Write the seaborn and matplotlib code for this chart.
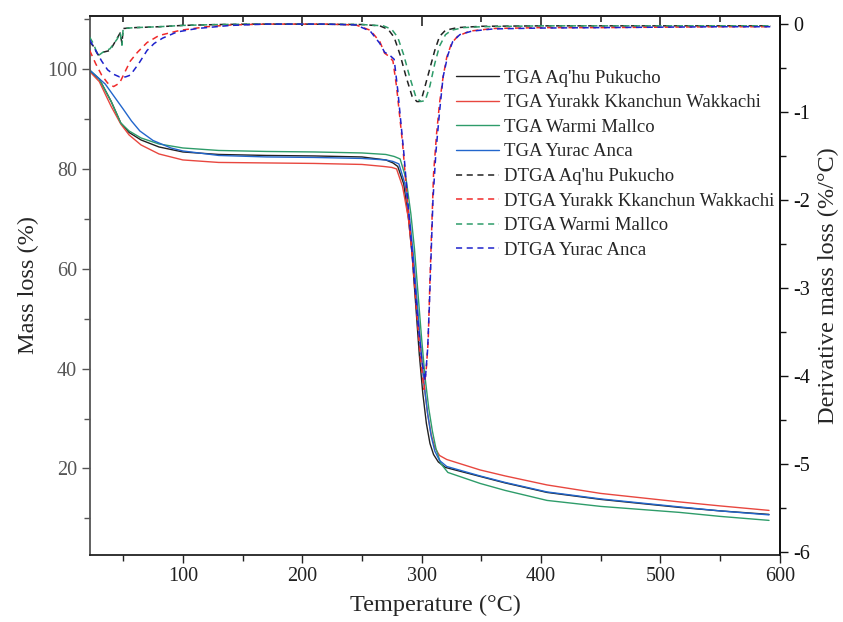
import matplotlib
matplotlib.use('Agg')
import matplotlib.pyplot as plt
import seaborn as sns
from matplotlib.ticker import MultipleLocator

# TGA curves (temperature in C, mass in %)
tga_black_t = [22, 30, 40, 48, 55, 65, 80, 100, 130, 170, 210, 250, 270, 276, 280, 285, 289, 292, 295, 298, 301, 304, 307, 310, 314, 320, 349, 370, 405, 450, 516, 550, 591]
tga_black_m = [99.6, 98.0, 93.5, 89.2, 87.3, 85.8, 84.4, 83.4, 82.9, 82.7, 82.6, 82.4, 81.8, 81.2, 80.5, 77, 70, 63, 53, 43, 35, 29, 25, 22.8, 21.3, 20.2, 18.4, 17.1, 15.2, 13.8, 12.2, 11.5, 10.8]

tga_red_t = [22, 30, 40, 48, 55, 65, 80, 100, 130, 170, 210, 250, 268, 275, 279, 284, 289, 292, 296, 299, 302, 305, 308, 311, 315, 321, 349, 370, 405, 450, 516, 550, 591]
tga_red_m = [99.5, 97.5, 92.5, 89.0, 86.8, 84.8, 83.0, 81.8, 81.3, 81.2, 81.1, 80.9, 80.5, 80.3, 80.0, 76.5, 70, 63, 53, 45, 37, 31, 26.8, 24.2, 22.6, 21.8, 19.7, 18.5, 16.7, 15.0, 13.3, 12.5, 11.6]

tga_green_t = [22, 30, 40, 48, 55, 65, 80, 100, 130, 170, 210, 250, 270, 277, 282, 287, 291, 294, 297, 300, 303, 306, 309, 312, 316, 322, 349, 370, 405, 450, 516, 550, 591]
tga_green_m = [99.8, 98.0, 93.5, 89.2, 87.6, 86.2, 85.0, 84.2, 83.7, 83.5, 83.4, 83.2, 82.9, 82.5, 82.0, 78, 71, 64, 55, 46, 38, 32, 27.5, 24, 21, 19.2, 17.0, 15.6, 13.6, 12.4, 11.2, 10.4, 9.6]

tga_blue_t = [22, 35, 50, 57, 64, 75, 90, 100, 130, 170, 210, 250, 270, 276, 281, 286, 290, 293, 296, 299, 302, 305, 308, 311, 315, 321, 349, 370, 405, 450, 516, 550, 591]
tga_blue_m = [99.8, 97.0, 92.0, 89.6, 87.6, 85.7, 84.2, 83.6, 82.7, 82.4, 82.3, 82.1, 81.8, 81.5, 81.0, 77, 70, 63, 54, 45, 37, 31, 26.5, 23.5, 21.6, 20.4, 18.5, 17.2, 15.3, 13.9, 12.3, 11.5, 10.7]

# DTGA curves (temperature in C, derivative in %/C)
dtga_black_t = [22, 25, 29, 33, 39, 45, 47.5, 49, 50, 60, 80, 100, 130, 160, 200, 250, 265, 272, 277, 282, 287, 292, 296, 298, 300, 303, 307, 311, 315, 320, 330, 350, 400, 450, 500, 550, 592]
dtga_black_d = [-0.2, -0.25, -0.35, -0.32, -0.3, -0.16, -0.1, -0.22, -0.05, -0.04, -0.03, -0.015, -0.005, 0, 0, -0.005, -0.02, -0.06, -0.15, -0.35, -0.6, -0.82, -0.88, -0.88, -0.85, -0.7, -0.5, -0.3, -0.14, -0.07, -0.04, -0.025, -0.02, -0.02, -0.02, -0.02, -0.02]

dtga_red_t = [22, 27, 32, 37, 42, 47, 52, 56, 62, 70, 80, 98, 120, 140, 170, 220, 245, 257, 265, 269, 273, 276, 279, 284, 288, 292, 296, 299, 302, 304, 305.5, 307, 308.5, 310, 312.5, 315, 318, 321, 325, 330, 340, 360, 400, 450, 500, 550, 592]
dtga_red_d = [-0.3, -0.45, -0.58, -0.67, -0.71, -0.67, -0.53, -0.42, -0.32, -0.21, -0.13, -0.07, -0.03, -0.01, 0, 0, -0.01, -0.07, -0.2, -0.33, -0.37, -0.42, -0.71, -1.35, -2.0, -2.6, -3.3, -3.8, -4.15, -3.9, -3.6, -2.9, -2.3, -1.7, -1.25, -0.9, -0.6, -0.38, -0.22, -0.14, -0.08, -0.05, -0.04, -0.04, -0.035, -0.03, -0.03]

dtga_green_t = [22, 25, 29, 33, 39, 45, 47.5, 49, 50, 60, 80, 100, 130, 160, 200, 250, 268, 275, 280, 285, 290, 295, 299, 303, 307, 311, 315, 320, 325, 335, 350, 400, 450, 500, 550, 592]
dtga_green_d = [-0.15, -0.22, -0.36, -0.32, -0.28, -0.17, -0.1, -0.24, -0.05, -0.04, -0.03, -0.015, -0.005, 0, 0, -0.005, -0.02, -0.06, -0.15, -0.35, -0.6, -0.82, -0.88, -0.87, -0.7, -0.45, -0.25, -0.12, -0.07, -0.04, -0.03, -0.02, -0.02, -0.02, -0.02, -0.02]

dtga_blue_t = [22, 27, 32, 37, 42, 47, 52, 56, 63, 70, 76, 83, 95, 112, 140, 170, 220, 245, 257, 265, 269, 273, 277, 280, 285, 289, 293, 297, 300, 303, 305, 306.5, 308, 309.5, 312, 315, 318, 322, 326, 332, 342, 360, 400, 450, 500, 550, 592]
dtga_blue_d = [-0.18, -0.3, -0.42, -0.52, -0.57, -0.6, -0.6, -0.58, -0.45, -0.3, -0.22, -0.16, -0.09, -0.05, -0.015, 0, 0, -0.01, -0.08, -0.22, -0.32, -0.35, -0.4, -0.75, -1.45, -2.1, -2.75, -3.4, -3.8, -4.05, -3.7, -3.2, -2.6, -2.0, -1.45, -1.0, -0.6, -0.35, -0.2, -0.12, -0.08, -0.055, -0.045, -0.04, -0.035, -0.03, -0.03]

sample_names = ["Aq'hu Pukucho", "Yurakk Kkanchun Wakkachi", "Warmi Mallco", "Yurac Anca"]
tga_colors = ['#222222', '#e8473f', '#2e9c6a', '#2266cc']
dtga_colors = ['#222222', '#f02a2a', '#2e9c6a', '#1e22cc']

sns.set_style('ticks')
plt.rcParams['font.family'] = ['Liberation Serif', 'DejaVu Serif']
plt.rcParams['axes.unicode_minus'] = False

fig = plt.figure(figsize=(8.43, 6.22), dpi=100)
ax = fig.add_axes([0.107, 0.108, 0.818, 0.866])
ax2 = ax.twinx()

tga_t = [tga_black_t, tga_red_t, tga_green_t, tga_blue_t]
tga_m = [tga_black_m, tga_red_m, tga_green_m, tga_blue_m]
dtga_t = [dtga_black_t, dtga_red_t, dtga_green_t, dtga_blue_t]
dtga_d = [dtga_black_d, dtga_red_d, dtga_green_d, dtga_blue_d]

for t, m, c, name in zip(tga_t, tga_m, tga_colors, sample_names):
    sns.lineplot(x=t, y=m, ax=ax, color=c, lw=1.0, sort=False, estimator=None, label='TGA ' + name, legend=False)

for t, d, c, name in zip(dtga_t, dtga_d, dtga_colors, sample_names):
    sns.lineplot(x=t, y=d, ax=ax2, color=c, lw=1.1, sort=False, estimator=None, label='DTGA ' + name, legend=False)
for line in ax2.get_lines():
    line.set_linestyle((0, (4, 3)))

ax.set_xlim(22.4, 600)
ax.set_ylim(2.7, 110.6)
ax2.set_ylim(-6.03, 0.09)

ax.xaxis.set_major_locator(MultipleLocator(100))
ax.xaxis.set_minor_locator(MultipleLocator(50))
ax.yaxis.set_major_locator(MultipleLocator(20))
ax.yaxis.set_minor_locator(MultipleLocator(10))
ax2.yaxis.set_major_locator(MultipleLocator(1))
ax2.yaxis.set_minor_locator(MultipleLocator(0.5))

ax.tick_params(axis='x', which='major', direction='out', length=6, width=1, labelsize=14.5, colors='#222222', pad=3)
ax.tick_params(axis='x', which='minor', direction='out', length=4, width=1, colors='#222222')
ax.tick_params(axis='y', which='major', direction='out', length=6, width=1, labelsize=14.5, colors='#555555')
ax.tick_params(axis='y', which='minor', direction='out', length=4, width=1, colors='#555555')
ax2.tick_params(axis='y', which='major', direction='out', length=6, width=1, labelsize=14.5, colors='#111111', pad=4)
ax2.tick_params(axis='y', which='minor', direction='out', length=4, width=1, colors='#111111')

top = ax.secondary_xaxis('top')
top.xaxis.set_major_locator(MultipleLocator(100))
top.xaxis.set_minor_locator(MultipleLocator(50))
top.tick_params(which='major', direction='in', length=7, width=1.2, labeltop=False)
top.tick_params(which='minor', direction='in', length=4, width=1.2)

for a in (ax, ax2):
    for s in a.spines.values():
        s.set_linewidth(1.3)
ax.spines['left'].set_color('#555555')
ax2.spines['left'].set_visible(False)
ax2.spines['right'].set_color('#111111')
ax.spines['bottom'].set_color('#222222')
ax2.spines['bottom'].set_visible(False)
ax2.spines['top'].set_color('#222222')
top.spines['top'].set_visible(False)

ax.set_xlabel('Temperature (°C)', fontsize=17.5, labelpad=6)
ax.set_ylabel('Mass loss (%)', fontsize=17.5, labelpad=6)
ax2.set_ylabel('Derivative mass loss (%/°C)', fontsize=17.5, labelpad=5)

h1, l1 = ax.get_legend_handles_labels()
h2, l2 = ax2.get_legend_handles_labels()
ax2.legend(h1 + h2, l1 + l2, loc='upper left', bbox_to_anchor=(0.52, 0.915), frameon=False,
           fontsize=13.5, handlelength=2.3, handletextpad=0.25, labelspacing=0.4, borderaxespad=0)

plt.savefig('out.png', dpi=100)
